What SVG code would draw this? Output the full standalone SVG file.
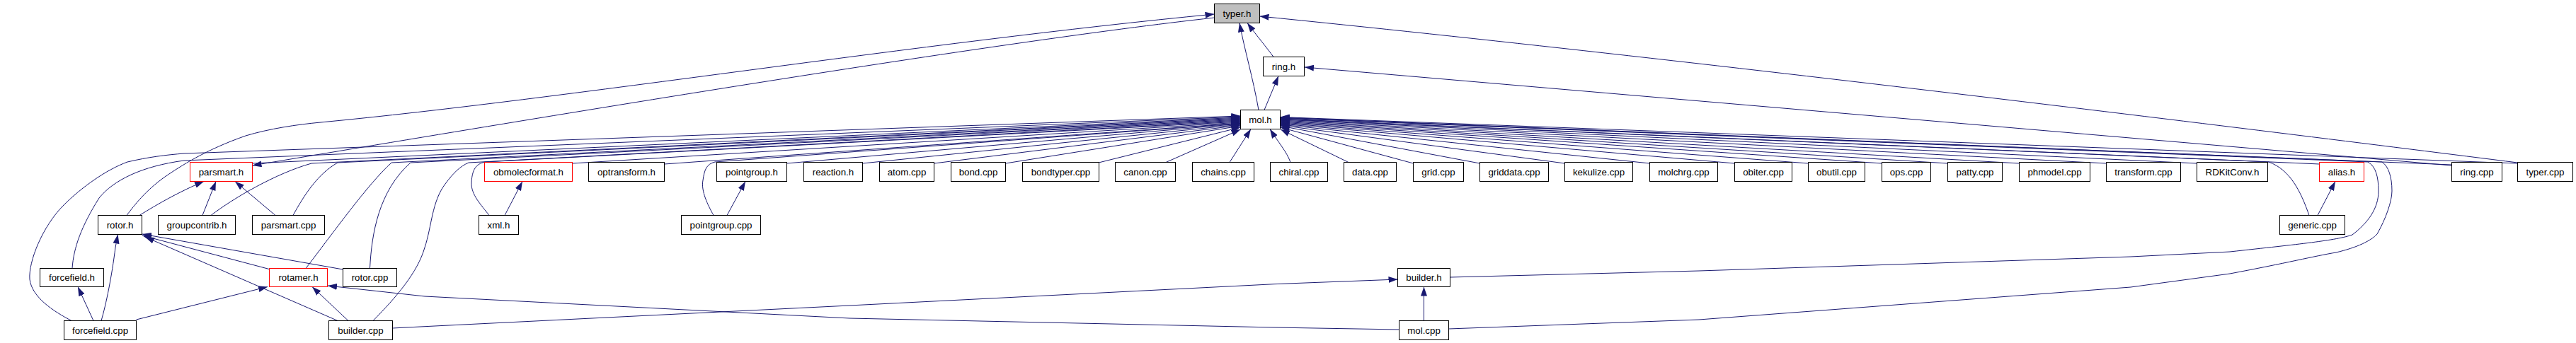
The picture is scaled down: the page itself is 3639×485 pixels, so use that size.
<svg xmlns="http://www.w3.org/2000/svg" width="3639" height="485" viewBox="0 0 3639 485">
<defs>
<marker id="ah" viewBox="0 0 13 9" refX="13" refY="4.5" markerWidth="13" markerHeight="9" orient="auto" markerUnits="userSpaceOnUse">
<path d="M0,0 L13,4.5 L0,9 z" fill="#191970"/>
</marker>
<style>
.e path{fill:none;stroke:#191970;stroke-width:1;marker-end:url(#ah)}
.n rect{fill:#fff;stroke:#000;stroke-width:1}
.n.red rect{stroke:#f00}
.n.root rect{fill:#bfbfbf}
.n text{font-family:"Liberation Sans",Arial,Helvetica,sans-serif;font-size:13.3px;text-anchor:middle;fill:#000}
</style>
</defs>
<rect x="0" y="0" width="3639" height="485" fill="#fff"/>
<g id="edges" class="e">
<!-- into typer.h -->
<path d="M179,304.5 C190,290 205,270 233,250 C255,235 290,212 347,192 C380,182 420,176 453,173 C800,140 1300,60 1715.5,20"/>
<path d="M1778,155.5 C1770,110 1758,70 1751,32.5"/>
<path d="M1799,80.5 C1790,68 1775,50 1762,32.5"/>
<path d="M3556.5,230 C3200,185 2400,85 1779.5,23"/>
<!-- typer.h -> parsmart.h -->
<path d="M1715.5,25 C1400,60 800,160 356.5,234"/>
<!-- into ring.h -->
<path d="M1786,155.5 L1806,107.5"/>
<path d="M3463.5,234 L1843,95"/>
<!-- into parsmart.h -->
<path d="M197,304.5 C220,290 255,270 288,256.5"/>
<path d="M286,304.5 L305,256.5"/>
<path d="M389,304.5 L332,256.5"/>
<!-- into mol.h from left -->
<path d="M101,453.5 C75,440 45,420 42,395 C40,370 60,320 90,290 C115,265 150,240 180,229 C210,222 235,219 260,217 L1752.5,164"/>
<path d="M102,379.5 C104,350 115,320 140,280 C160,255 200,235 260,227 L1752.5,165"/>
<path d="M356.5,231 L1752.5,166"/>
<path d="M298,304.5 C330,280 390,245 440,231 L1752.5,167"/>
<path d="M414,304.5 C430,275 450,245 477,230 L1752.5,168"/>
<path d="M432,379.5 C470,330 520,260 553,230 L1752.5,169"/>
<path d="M522.5,379.5 C525,330 535,270 580,230 L1752.5,170"/>
<path d="M527,453.5 C560,420 590,385 600,350 C610,320 610,285 629,260 C640,245 650,235 662,230 L1752.5,171"/>
<path d="M691,304.5 C680,290 665,275 666,258 C667,240 672,232 685,229 L1752.5,172"/>
<path d="M808.5,231 L1752.5,173"/>
<path d="M938.5,232 L1752.5,174"/>
<path d="M1008,304.5 C1000,290 990,270 993,255 C995,240 998,232 1010,229 L1752.5,174.5"/>
<path d="M1111.5,231 L1752.5,175"/>
<path d="M1218.5,231 L1752.5,176"/>
<path d="M1319.5,231 L1752.5,177"/>
<path d="M1420.5,231 L1752.5,178"/>
<path d="M1552,230 L1752.5,180"/>
<path d="M1647,229.5 L1752.5,183"/>
<path d="M1737,229.5 L1767,182.5"/>
<!-- into mol.h from right -->
<path d="M1823,229.5 C1818,215 1805,200 1794,182.5"/>
<path d="M1905,229.5 L1809,183"/>
<path d="M1996.5,231 L1808.5,180"/>
<path d="M2090.5,231 L1808.5,178"/>
<path d="M2210.5,231 L1808.5,177"/>
<path d="M2330.5,231 L1808.5,176"/>
<path d="M2450.5,231 L1808.5,175"/>
<path d="M2554.5,231 L1808.5,174"/>
<path d="M2658.5,231 L1808.5,173"/>
<path d="M2751.5,231 L1808.5,172"/>
<path d="M2852.5,231 L1808.5,171"/>
<path d="M2975.5,231 L1808.5,170"/>
<path d="M3103.5,231 L1808.5,169"/>
<path d="M3262,304.5 C3250,270 3235,240 3205,229 L1808.5,168.5"/>
<path d="M3276.5,232 L1808.5,168"/>
<path d="M2048.5,392 L2400,383 L3010,363 L3150,356 C3250,345 3300,340 3323,332 C3345,315 3360,295 3360,270 C3360,250 3356,235 3345,229 L1808.5,167"/>
<path d="M2046.5,465 L2400,452 L3010,406 L3150,387 C3230,372 3270,362 3300,357 C3330,350 3350,340 3358,331 C3370,310 3379,285 3379,270 C3379,250 3374,235 3365,229 L1808.5,166.5"/>
<path d="M3463.5,233 L1808.5,166"/>
<path d="M3556.5,231 L1808.5,165.5"/>
<!-- lower part -->
<path d="M382,381 L201,333"/>
<path d="M484.5,381 L201,331"/>
<path d="M477,453.5 L205,335"/>
<path d="M143,453.5 C150,430 158,390 163,350 L166.5,331.5"/>
<path d="M132,453.5 L110,405.5"/>
<path d="M192.5,452 L378,405.5"/>
<path d="M492,453.5 L441,405.5"/>
<path d="M1976.5,466 L1800,463 L1200,450 L600,419 L463,404"/>
<path d="M554.5,464 L600,461.7 L1200,432 L1800,401.7 L1974.5,395"/>
<path d="M2011.5,453.5 L2011.5,405.5"/>
<path d="M3274,304.5 L3299,256.5"/>
<path d="M713,304.5 L738,256.5"/>
<path d="M1027,304.5 L1053,256.5"/>
</g>
<g id="node-typer_h" class="n root"><rect x="1715.5" y="5.5" width="64" height="27"/><text x="1747.5" y="23.5">typer.h</text></g>
<g id="node-ring_h" class="n"><rect x="1784.5" y="80.5" width="58" height="27"/><text x="1813.5" y="98.5">ring.h</text></g>
<g id="node-mol_h" class="n"><rect x="1752.5" y="155.5" width="56" height="27"/><text x="1780.5" y="173.5">mol.h</text></g>
<g id="node-parsmart_h" class="n red"><rect x="268.5" y="229.5" width="88" height="27"/><text x="312.5" y="247.5">parsmart.h</text></g>
<g id="node-obmolecformat_h" class="n red"><rect x="684.5" y="229.5" width="124" height="27"/><text x="746.5" y="247.5">obmolecformat.h</text></g>
<g id="node-optransform_h" class="n"><rect x="831.5" y="229.5" width="107" height="27"/><text x="885" y="247.5">optransform.h</text></g>
<g id="node-pointgroup_h" class="n"><rect x="1012.5" y="229.5" width="99" height="27"/><text x="1062" y="247.5">pointgroup.h</text></g>
<g id="node-reaction_h" class="n"><rect x="1135.5" y="229.5" width="83" height="27"/><text x="1177" y="247.5">reaction.h</text></g>
<g id="node-atom_cpp" class="n"><rect x="1242.5" y="229.5" width="77" height="27"/><text x="1281" y="247.5">atom.cpp</text></g>
<g id="node-bond_cpp" class="n"><rect x="1343.5" y="229.5" width="77" height="27"/><text x="1382" y="247.5">bond.cpp</text></g>
<g id="node-bondtyper_cpp" class="n"><rect x="1444.5" y="229.5" width="108" height="27"/><text x="1498.5" y="247.5">bondtyper.cpp</text></g>
<g id="node-canon_cpp" class="n"><rect x="1575.5" y="229.5" width="85" height="27"/><text x="1618" y="247.5">canon.cpp</text></g>
<g id="node-chains_cpp" class="n"><rect x="1684.5" y="229.5" width="87" height="27"/><text x="1728" y="247.5">chains.cpp</text></g>
<g id="node-chiral_cpp" class="n"><rect x="1794.5" y="229.5" width="81" height="27"/><text x="1835" y="247.5">chiral.cpp</text></g>
<g id="node-data_cpp" class="n"><rect x="1898.5" y="229.5" width="74" height="27"/><text x="1935.5" y="247.5">data.cpp</text></g>
<g id="node-grid_cpp" class="n"><rect x="1996.5" y="229.5" width="71" height="27"/><text x="2032" y="247.5">grid.cpp</text></g>
<g id="node-griddata_cpp" class="n"><rect x="2090.5" y="229.5" width="97" height="27"/><text x="2139" y="247.5">griddata.cpp</text></g>
<g id="node-kekulize_cpp" class="n"><rect x="2210.5" y="229.5" width="96" height="27"/><text x="2258.5" y="247.5">kekulize.cpp</text></g>
<g id="node-molchrg_cpp" class="n"><rect x="2330.5" y="229.5" width="96" height="27"/><text x="2378.5" y="247.5">molchrg.cpp</text></g>
<g id="node-obiter_cpp" class="n"><rect x="2450.5" y="229.5" width="81" height="27"/><text x="2491" y="247.5">obiter.cpp</text></g>
<g id="node-obutil_cpp" class="n"><rect x="2554.5" y="229.5" width="80" height="27"/><text x="2594.5" y="247.5">obutil.cpp</text></g>
<g id="node-ops_cpp" class="n"><rect x="2658.5" y="229.5" width="69" height="27"/><text x="2693" y="247.5">ops.cpp</text></g>
<g id="node-patty_cpp" class="n"><rect x="2751.5" y="229.5" width="77" height="27"/><text x="2790" y="247.5">patty.cpp</text></g>
<g id="node-phmodel_cpp" class="n"><rect x="2852.5" y="229.5" width="100" height="27"/><text x="2902.5" y="247.5">phmodel.cpp</text></g>
<g id="node-transform_cpp" class="n"><rect x="2975.5" y="229.5" width="105" height="27"/><text x="3028" y="247.5">transform.cpp</text></g>
<g id="node-RDKitConv_h" class="n"><rect x="3103.5" y="229.5" width="100" height="27"/><text x="3153.5" y="247.5">RDKitConv.h</text></g>
<g id="node-alias_h" class="n red"><rect x="3276.5" y="229.5" width="63" height="27"/><text x="3308" y="247.5">alias.h</text></g>
<g id="node-ring_cpp" class="n"><rect x="3463.5" y="229.5" width="71" height="27"/><text x="3499" y="247.5">ring.cpp</text></g>
<g id="node-typer_cpp" class="n"><rect x="3556.5" y="229.5" width="78" height="27"/><text x="3595.5" y="247.5">typer.cpp</text></g>
<g id="node-rotor_h" class="n"><rect x="138.5" y="304.5" width="62" height="27"/><text x="169.5" y="322.5">rotor.h</text></g>
<g id="node-groupcontrib_h" class="n"><rect x="223.5" y="304.5" width="109" height="27"/><text x="278" y="322.5">groupcontrib.h</text></g>
<g id="node-parsmart_cpp" class="n"><rect x="356.5" y="304.5" width="102" height="27"/><text x="407.5" y="322.5">parsmart.cpp</text></g>
<g id="node-xml_h" class="n"><rect x="676.5" y="304.5" width="56" height="27"/><text x="704.5" y="322.5">xml.h</text></g>
<g id="node-pointgroup_cpp" class="n"><rect x="962.5" y="304.5" width="112" height="27"/><text x="1018.5" y="322.5">pointgroup.cpp</text></g>
<g id="node-generic_cpp" class="n"><rect x="3220.5" y="304.5" width="92" height="27"/><text x="3266.5" y="322.5">generic.cpp</text></g>
<g id="node-forcefield_h" class="n"><rect x="56.5" y="379.5" width="90" height="26"/><text x="101.5" y="397">forcefield.h</text></g>
<g id="node-rotamer_h" class="n red"><rect x="380.5" y="379.5" width="82" height="26"/><text x="421.5" y="397">rotamer.h</text></g>
<g id="node-rotor_cpp" class="n"><rect x="484.5" y="379.5" width="76" height="26"/><text x="522.5" y="397">rotor.cpp</text></g>
<g id="node-builder_h" class="n"><rect x="1974.5" y="379.5" width="74" height="26"/><text x="2011.5" y="397">builder.h</text></g>
<g id="node-forcefield_cpp" class="n"><rect x="90.5" y="453.5" width="102" height="27"/><text x="141.5" y="471.5">forcefield.cpp</text></g>
<g id="node-builder_cpp" class="n"><rect x="464.5" y="453.5" width="90" height="27"/><text x="509.5" y="471.5">builder.cpp</text></g>
<g id="node-mol_cpp" class="n"><rect x="1976.5" y="453.5" width="70" height="27"/><text x="2011.5" y="471.5">mol.cpp</text></g>
</svg>
